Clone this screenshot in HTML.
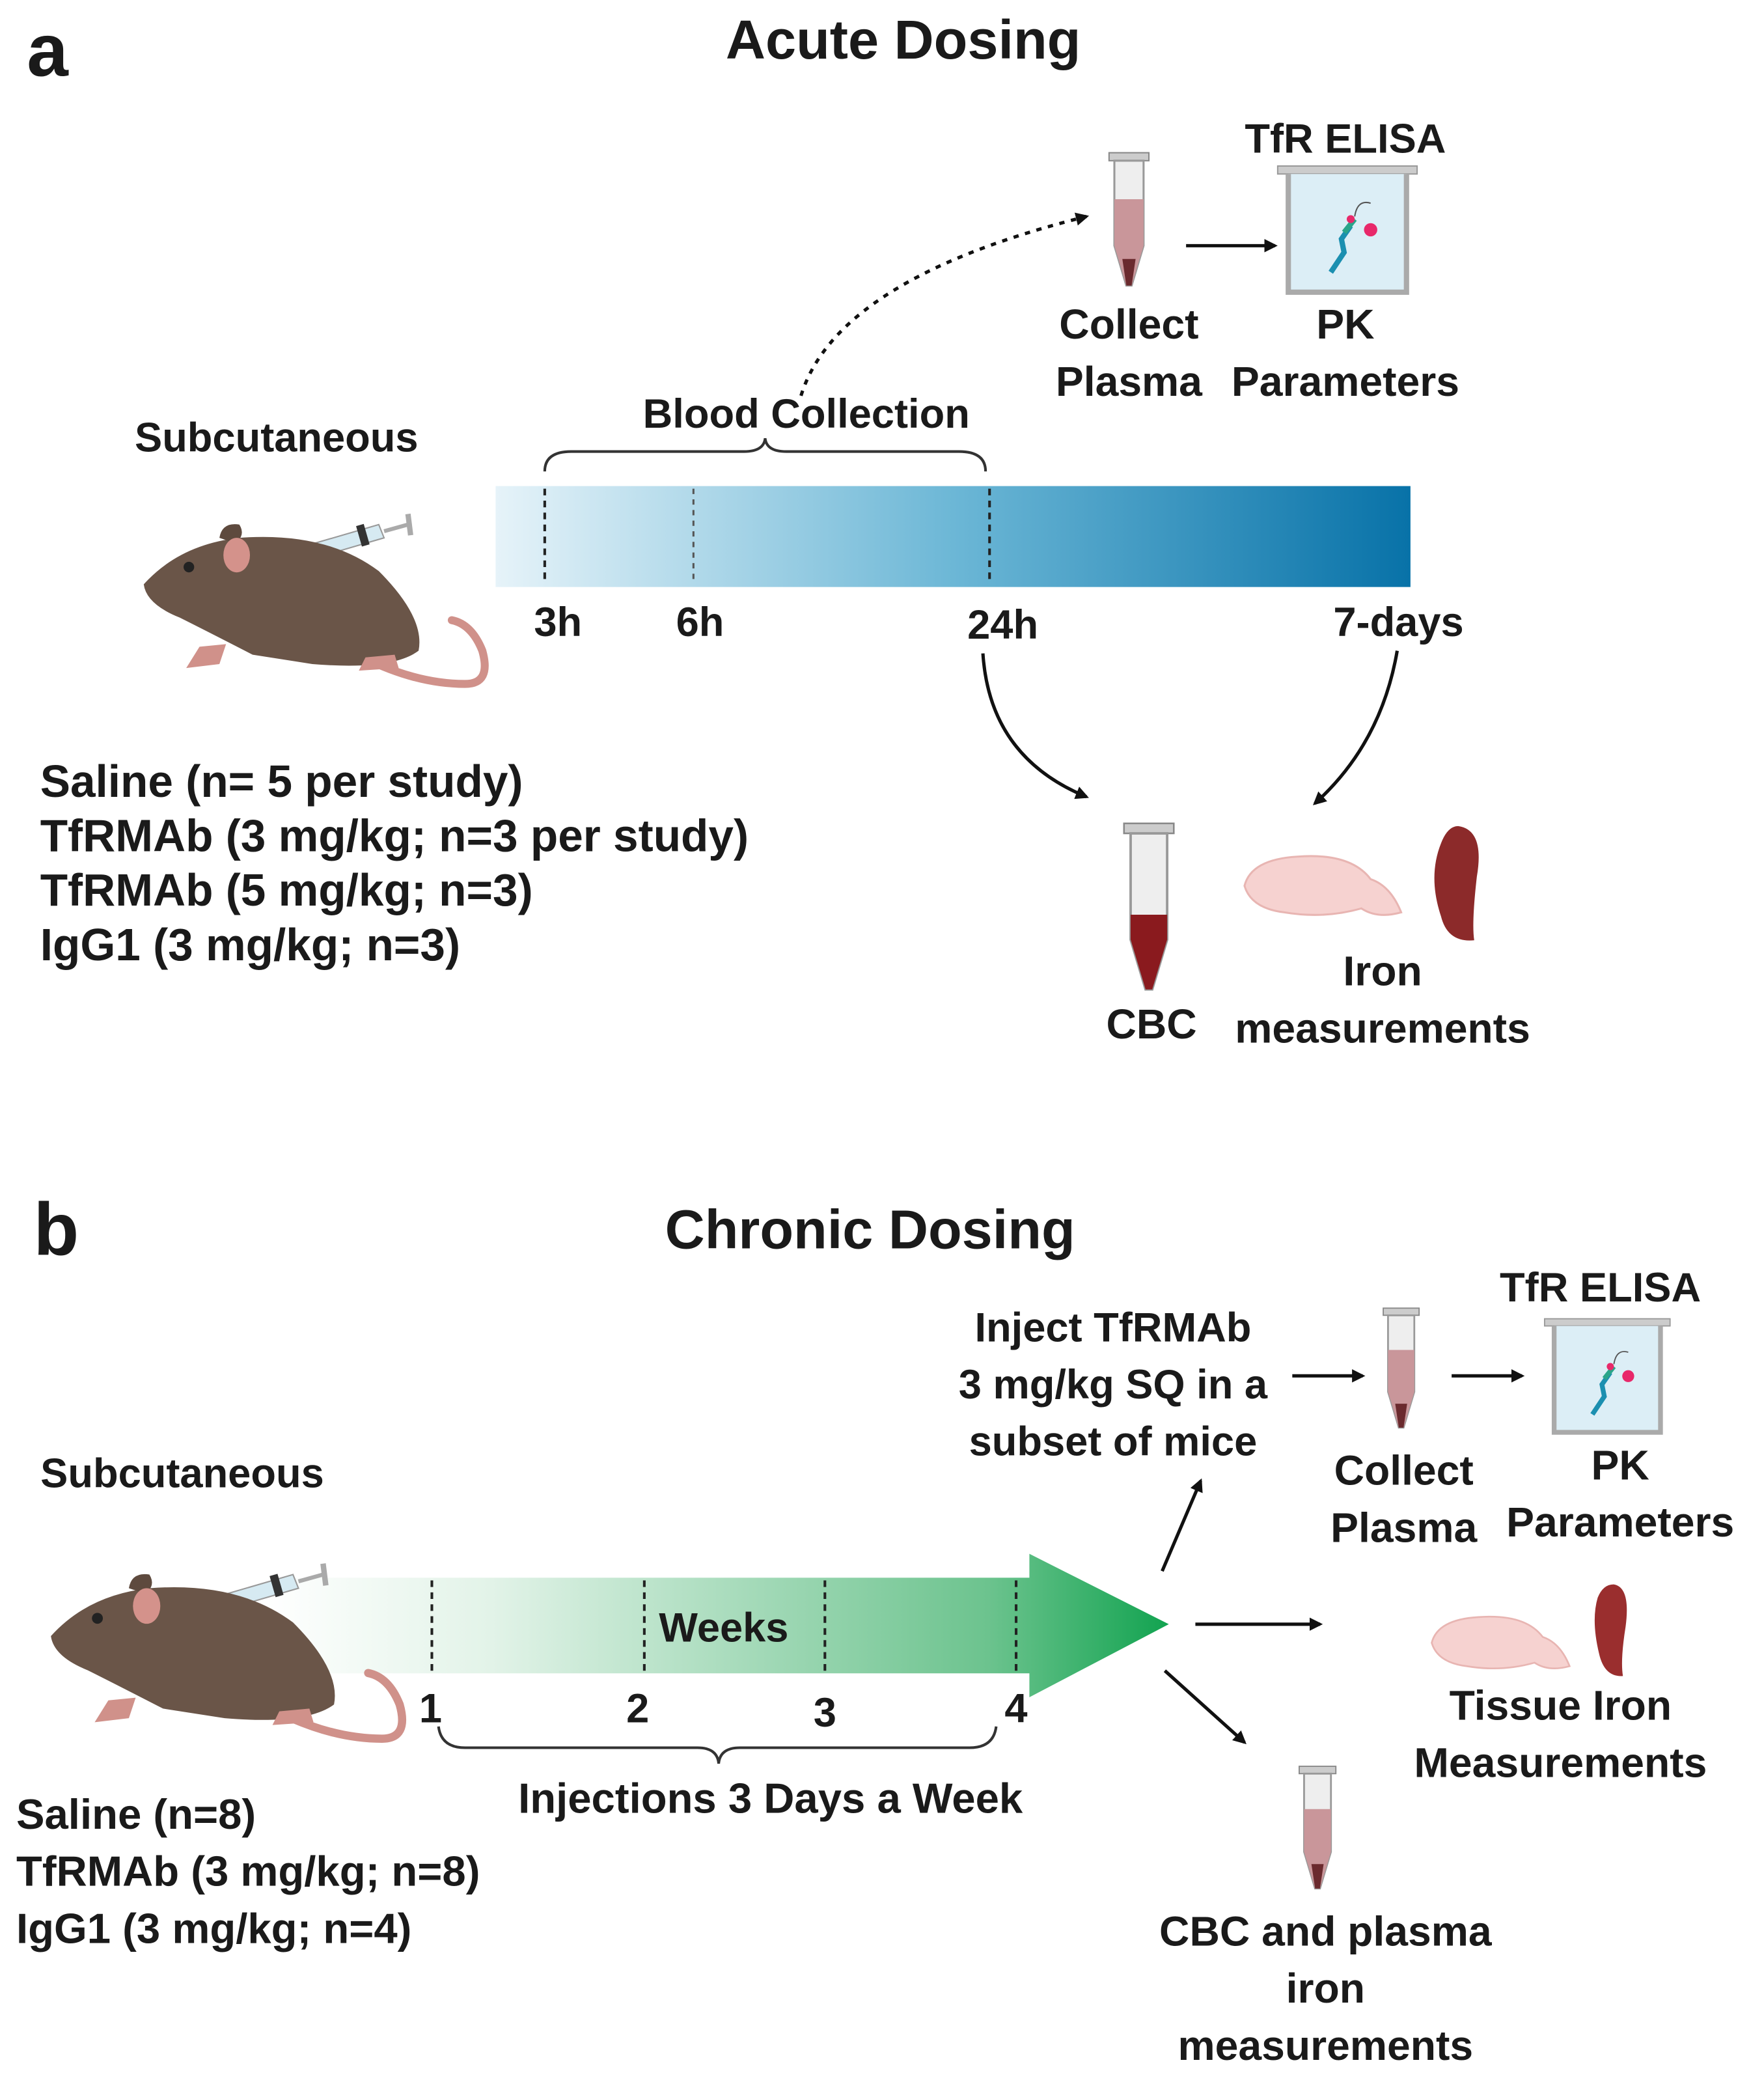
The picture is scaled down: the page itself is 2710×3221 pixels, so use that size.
<!DOCTYPE html>
<html><head><meta charset="utf-8"><style>
html,body{margin:0;padding:0;background:#fff;}
svg{display:block;}
text{font-family:"Liberation Sans",sans-serif;font-weight:bold;fill:#1a1a1a;}
</style></head><body>
<svg width="2710" height="3221" viewBox="0 0 1328 1579" xmlns="http://www.w3.org/2000/svg">
<defs>
<linearGradient id="blue" x1="0" x2="1" y1="0" y2="0"><stop offset="0" stop-color="#e6f3f9"/><stop offset="0.5" stop-color="#6cb7d6"/><stop offset="1" stop-color="#0872a8"/></linearGradient>
<linearGradient id="green" x1="0" x2="1" y1="0" y2="0"><stop offset="0" stop-color="#ffffff"/><stop offset="0.25" stop-color="#e2f3e8"/><stop offset="0.8" stop-color="#6cc38e"/><stop offset="1" stop-color="#12a350"/></linearGradient>
<marker id="ah" markerWidth="10" markerHeight="10" refX="8" refY="5" orient="auto" markerUnits="userSpaceOnUse"><path d="M0,0 L10,5 L0,10 z" fill="#111"/></marker>
<g id="mouse">
  <line x1="110" y1="38" x2="125" y2="33" stroke="#999" stroke-width="2"/>
  <path d="M125,36 L180,20 L184,30 L129,46 z" fill="#d6eaf2" stroke="#999" stroke-width="1"/>
  <rect x="165" y="20" width="6" height="16" transform="rotate(-16 168 28)" fill="#333"/>
  <line x1="184" y1="25" x2="202" y2="20" stroke="#aaa" stroke-width="3"/>
  <line x1="202" y1="12" x2="204" y2="28" stroke="#aaa" stroke-width="4"/>
  <path d="M150,110 Q200,140 245,140 Q265,140 258,115 Q250,95 235,92" fill="none" stroke="#d0918a" stroke-width="6" stroke-linecap="round"/>
  <path d="M3,65 Q30,35 75,30 Q140,25 180,55 Q215,90 210,115 Q190,130 130,125 L85,118 Q50,100 30,90 Q5,80 3,65 z" fill="#6a5548"/>
  <path d="M60,30 Q62,18 75,20 Q80,28 72,34 z" fill="#5e4a3e"/>
  <ellipse cx="73" cy="43" rx="10" ry="13" fill="#d4928b"/>
  <circle cx="37" cy="52" r="4" fill="#222"/>
  <path d="M45,112 L35,128 L60,125 L65,110 z" fill="#d0918a"/>
  <path d="M170,120 L165,130 L195,128 L192,118 z" fill="#d0918a"/>
</g>
<g id="tubeP">
  <rect x="-15" y="0" width="30" height="6" fill="#ccc" stroke="#888" stroke-width="1"/>
  <path d="M-11,6 L11,6 L11,70 L2,100 L-2,100 L-11,70 z" fill="#eee" stroke="#999" stroke-width="1.5"/>
  <path d="M-11,35 L11,35 L11,70 L2,100 L-2,100 L-11,70 z" fill="#c9969a"/>
  <path d="M-5,80 L5,80 L2,100 L-2,100 z" fill="#6a2a2e"/>
</g>
<g id="elisa">
  <rect x="0" y="0" width="105" height="6" fill="#ccc" stroke="#999"/>
  <path d="M8,6 L8,95 L97,95 L97,6" fill="#dceef6" stroke="#aaa" stroke-width="4"/>
  <path d="M40,80 L50,65 L48,55 L55,45" stroke="#1b8fb0" stroke-width="4" fill="none"/>
  <path d="M50,50 L58,40" stroke="#2aa58a" stroke-width="4" fill="none"/>
  <circle cx="70" cy="48" r="5" fill="#e8286a"/>
  <circle cx="55" cy="40" r="3" fill="#e8286a"/>
  <path d="M58,38 Q60,25 70,28" stroke="#555" fill="none"/>
</g>
<g id="brain">
  <path d="M0,25 Q5,5 40,3 Q80,0 95,20 Q110,25 118,45 Q100,50 88,42 Q60,50 30,45 Q5,42 0,25 z" fill="#f6d2d0" stroke="#e8b5b2" stroke-width="1.5"/>
</g>
</defs>

<!-- ===== Panel a ===== -->
<text x="20" y="57" font-size="56">a</text>
<text x="680" y="44" font-size="41.5" text-anchor="middle">Acute Dosing</text>

<use href="#tubeP" x="850" y="115"/>
<line x1="893" y1="185" x2="960" y2="185" stroke="#111" stroke-width="2.5" marker-end="url(#ah)"/>
<use href="#elisa" x="962" y="125"/>
<text x="1013" y="115" font-size="31" text-anchor="middle">TfR ELISA</text>
<text x="850" y="255" font-size="31.5" text-anchor="middle">Collect</text>
<text x="850" y="298" font-size="31.5" text-anchor="middle">Plasma</text>
<text x="1013" y="255" font-size="31.5" text-anchor="middle">PK</text>
<text x="1013" y="298" font-size="31.5" text-anchor="middle">Parameters</text>

<path d="M603,298 Q630,210 818,163" fill="none" stroke="#111" stroke-width="2.5" stroke-dasharray="4,5" marker-end="url(#ah)"/>
<text x="607" y="322" font-size="31" text-anchor="middle">Blood Collection</text>
<path d="M410,355 Q410,340 430,340 L560,340 Q575,340 576,330 Q577,340 592,340 L722,340 Q742,340 742,355" fill="none" stroke="#333" stroke-width="2"/>
<text x="208" y="340" font-size="31" text-anchor="middle">Subcutaneous</text>

<rect x="373" y="366" width="689" height="76" fill="url(#blue)"/>
<line x1="410" y1="368" x2="410" y2="440" stroke="#222" stroke-width="2" stroke-dasharray="5,4"/>
<line x1="522" y1="368" x2="522" y2="440" stroke="#555" stroke-width="1.5" stroke-dasharray="4,4"/>
<line x1="745" y1="368" x2="745" y2="440" stroke="#222" stroke-width="2" stroke-dasharray="5,4"/>
<text x="420" y="479" font-size="31" text-anchor="middle">3h</text>
<text x="527" y="479" font-size="31" text-anchor="middle">6h</text>
<text x="755" y="481" font-size="31" text-anchor="middle">24h</text>
<text x="1053" y="479" font-size="31" text-anchor="middle">7-days</text>

<use href="#mouse" x="105" y="375"/>

<path d="M740,492 Q745,570 818,600" fill="none" stroke="#111" stroke-width="2.5" marker-end="url(#ah)"/>
<path d="M1052,490 Q1040,560 990,605" fill="none" stroke="#111" stroke-width="2.5" marker-end="url(#ah)"/>

<g transform="translate(865,620) scale(1.25)"><rect x="-15" y="0" width="30" height="6" fill="#ccc" stroke="#888"/><path d="M-11,6 L11,6 L11,70 L2,100 L-2,100 L-11,70 z" fill="#eee" stroke="#999" stroke-width="1.5"/><path d="M-11,55 L11,55 L11,70 L2,100 L-2,100 L-11,70 z" fill="#8a1a1e"/></g>
<use href="#brain" x="937" y="642"/>
<path d="M1098,622 Q1118,625 1112,660 Q1108,695 1110,708 Q1090,710 1085,690 Q1075,660 1085,635 Q1090,622 1098,622 z" fill="#8c2a2a"/>
<text x="867" y="782" font-size="31.5" text-anchor="middle">CBC</text>
<text x="1041" y="742" font-size="31.5" text-anchor="middle">Iron</text>
<text x="1041" y="785" font-size="31.5" text-anchor="middle">measurements</text>

<text x="30" y="600" font-size="34">Saline (n= 5 per study)</text>
<text x="30" y="641" font-size="34">TfRMAb (3 mg/kg; n=3 per study)</text>
<text x="30" y="682" font-size="34">TfRMAb (5 mg/kg; n=3)</text>
<text x="30" y="723" font-size="34">IgG1 (3 mg/kg; n=3)</text>

<!-- ===== Panel b ===== -->
<text x="25" y="945" font-size="56">b</text>
<text x="655" y="940" font-size="41.5" text-anchor="middle">Chronic Dosing</text>

<text x="838" y="1010" font-size="31" text-anchor="middle">Inject TfRMAb</text>
<text x="838" y="1053" font-size="31" text-anchor="middle">3 mg/kg SQ in a</text>
<text x="838" y="1096" font-size="31" text-anchor="middle">subset of mice</text>
<line x1="973" y1="1036" x2="1026" y2="1036" stroke="#111" stroke-width="2.5" marker-end="url(#ah)"/>
<line x1="1093" y1="1036" x2="1146" y2="1036" stroke="#111" stroke-width="2.5" marker-end="url(#ah)"/>
<g transform="translate(1055,985) scale(0.9)"><use href="#tubeP"/></g>
<g transform="translate(1163,993) scale(0.9)"><use href="#elisa"/></g>
<text x="1205" y="980" font-size="31" text-anchor="middle">TfR ELISA</text>
<text x="1057" y="1118" font-size="31.5" text-anchor="middle">Collect</text>
<text x="1057" y="1161" font-size="31.5" text-anchor="middle">Plasma</text>
<text x="1220" y="1114" font-size="31.5" text-anchor="middle">PK</text>
<text x="1220" y="1157" font-size="31.5" text-anchor="middle">Parameters</text>

<text x="137" y="1120" font-size="31" text-anchor="middle">Subcutaneous</text>

<path d="M200,1188 L775,1188 L775,1170 L880,1223 L775,1278 L775,1260 L200,1260 z" fill="url(#green)"/>
<line x1="325" y1="1190" x2="325" y2="1258" stroke="#222" stroke-width="2" stroke-dasharray="5,4"/>
<line x1="485" y1="1190" x2="485" y2="1258" stroke="#222" stroke-width="2" stroke-dasharray="5,4"/>
<line x1="621" y1="1190" x2="621" y2="1258" stroke="#222" stroke-width="2" stroke-dasharray="5,4"/>
<line x1="765" y1="1190" x2="765" y2="1258" stroke="#222" stroke-width="2" stroke-dasharray="5,4"/>
<text x="496" y="1236" font-size="31">Weeks</text>
<g transform="translate(35,1165) scale(1.03)"><use href="#mouse"/></g>
<text x="324" y="1297" font-size="31" text-anchor="middle">1</text>
<text x="480" y="1297" font-size="31" text-anchor="middle">2</text>
<text x="621" y="1300" font-size="31" text-anchor="middle">3</text>
<text x="765" y="1297" font-size="31" text-anchor="middle">4</text>
<path d="M330,1300 Q332,1316 350,1316 L525,1316 Q540,1316 541,1328 Q542,1316 557,1316 L730,1316 Q748,1316 750,1300" fill="none" stroke="#333" stroke-width="2"/>
<text x="580" y="1365" font-size="32" text-anchor="middle">Injections 3 Days a Week</text>

<text x="12" y="1377" font-size="32">Saline (n=8)</text>
<text x="12" y="1420" font-size="32">TfRMAb (3 mg/kg; n=8)</text>
<text x="12" y="1463" font-size="32">IgG1 (3 mg/kg; n=4)</text>

<line x1="875" y1="1183" x2="904" y2="1115" stroke="#111" stroke-width="2.5" marker-end="url(#ah)"/>
<line x1="900" y1="1223" x2="994" y2="1223" stroke="#111" stroke-width="2.5" marker-end="url(#ah)"/>
<line x1="877" y1="1258" x2="937" y2="1312" stroke="#111" stroke-width="2.5" marker-end="url(#ah)"/>

<g transform="translate(1078,1215) scale(0.88)"><use href="#brain"/></g>
<path d="M1215,1193 Q1228,1195 1224,1225 Q1220,1250 1222,1262 Q1208,1263 1204,1245 Q1198,1220 1203,1203 Q1207,1193 1215,1193 z" fill="#9a2e2e"/>
<text x="1175" y="1295" font-size="31.5" text-anchor="middle">Tissue Iron</text>
<text x="1175" y="1338" font-size="31.5" text-anchor="middle">Measurements</text>

<g transform="translate(992,1330) scale(0.92)"><use href="#tubeP"/></g>
<text x="998" y="1465" font-size="31.5" text-anchor="middle">CBC and plasma</text>
<text x="998" y="1508" font-size="31.5" text-anchor="middle">iron</text>
<text x="998" y="1551" font-size="31.5" text-anchor="middle">measurements</text>
</svg>
</body></html>
